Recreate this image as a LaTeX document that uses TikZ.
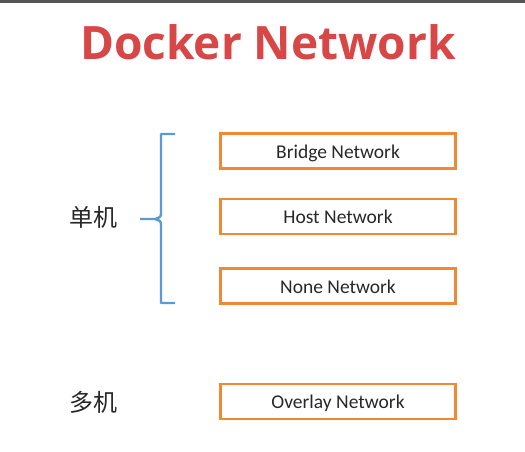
\documentclass[tikz,border=0pt]{standalone}
\usepackage{fontspec}
\setmainfont{Carlito}
\newfontfamily\titlefont{Open Sans}
\newfontfamily\cjk{Noto Sans CJK SC}
\definecolor{titlered}{RGB}{217,70,70}
\definecolor{boxorange}{RGB}{240,137,50}
\definecolor{braceblue}{RGB}{91,155,213}
\definecolor{topgray}{RGB}{85,85,85}
\definecolor{textgray}{RGB}{40,40,40}

\begin{document}
\begin{tikzpicture}[x=1pt,y=-1pt]
    \tikzstyle{net}=[draw=boxorange,line width=2.2pt,minimum width=235pt,minimum height=35pt,inner sep=0pt,text height=15pt,text depth=0.5pt,text=textgray,font=\fontsize{19.5}{22}\selectfont]
    \tikzstyle{label}=[text=textgray,font=\cjk\fontsize{24}{28}\selectfont]
    \tikzstyle{brace}=[draw=braceblue,line width=2.4pt,line join=round]

    \useasboundingbox (0,0) rectangle (525,451);
    \fill[white] (0,0) rectangle (525,451);
    \fill[topgray] (0,0) rectangle (525,2.5);

    % Draw the title
    \node[text=titlered,font=\titlefont\bfseries\fontsize{46}{52}\selectfont] (title) at (268,42) {Docker Network};

    % Draw the network boxes
    \foreach \name / \y / \txt in {bridge/151/Bridge Network,host/216.5/Host Network,none/286/None Network,overlay/401.5/Overlay Network}
        \node[net] (N-\name) at (338,\y) {\txt};

    % Draw the labels
    \node[label] (single) at (93,217) {单机};
    \node[label] (multi) at (93,402) {多机};

    % Draw the brace
    \coordinate (B-top) at (175,134);
    \coordinate (B-tip) at (140,219);
    \coordinate (B-bot) at (175,303);
    \path[brace] (B-top) -- (161,134) -- (161,212) .. controls (161,217) .. (155,219) -- (B-tip)
        (155,219) .. controls (161,221) .. (161,226) -- (161,303) -- (B-bot);
\end{tikzpicture}
\end{document}
